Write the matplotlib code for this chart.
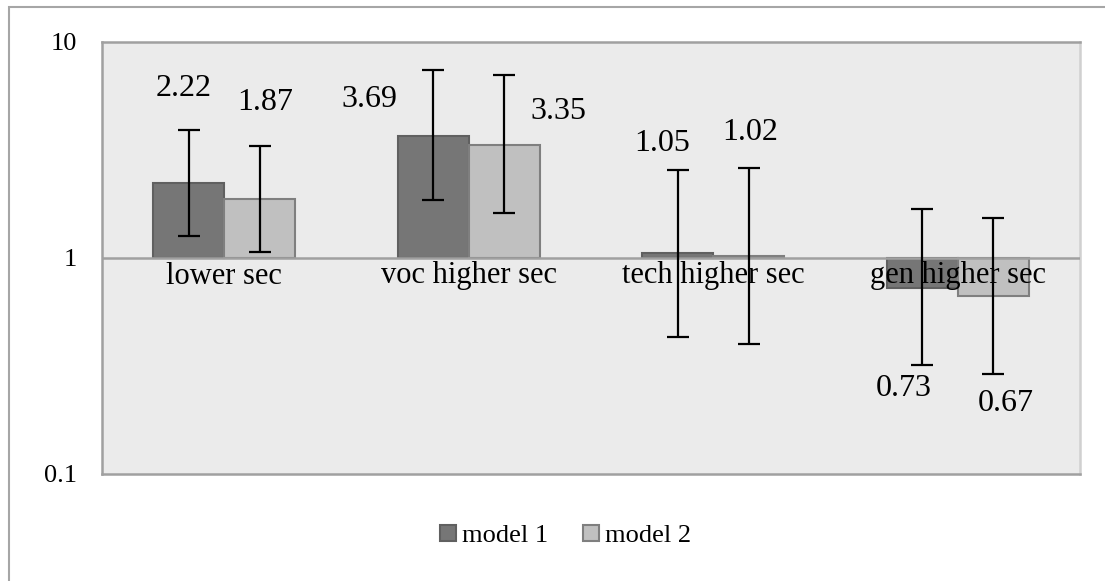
import matplotlib
matplotlib.use("Agg")
import matplotlib.pyplot as plt
from matplotlib.patches import Rectangle, Patch
import numpy as np

# ---- data ----
categories = ["lower sec", "voc higher sec", "tech higher sec", "gen higher sec"]
series_names = ["model 1", "model 2"]
model1 = [2.22, 3.69, 1.05, 0.73]
model2 = [1.87, 3.35, 1.02, 0.67]
model1_ci_low = [1.26, 1.86, 0.43, 0.32]
model1_ci_high = [3.91, 7.42, 2.56, 1.69]
model2_ci_low = [1.07, 1.62, 0.40, 0.29]
model2_ci_high = [3.30, 7.03, 2.61, 1.53]
ytick_values = [0.1, 1, 10]
ytick_labels = ["0.1", "1", "10"]

# label placement offsets (pixels, relative to bar end): (dx, dy up)
label_offsets_m1 = [(-5.5, 95), (-64, 36.5), (-15.5, 110), (-19, -100.5)]
label_offsets_m2 = [(5.5, 97), (54, 32.6), (1.5, 124), (13, -108)]

W, H, DPI = 1105, 581, 100
plt.rcParams['font.family'] = ['Liberation Serif', 'DejaVu Serif']
fig = plt.figure(figsize=(W / DPI, H / DPI), dpi=DPI)

# outer chart border (cut off at right/bottom)
fig.patches.append(Rectangle((9 / W, -0.05), 1.2, 1 - 7 / H + 0.05,
                             transform=fig.transFigure, fill=False,
                             edgecolor="#a6a6a6", linewidth=1.5))

left, right, top, bottom = 102, 1080, 42, 474
ax = fig.add_axes([left / W, 1 - bottom / H, (right - left) / W, (bottom - top) / H])
ax.set_facecolor("#ebebeb")
ax.set_yscale("log")
ax.set_ylim(0.1, 10)
ax.set_xlim(-0.5, len(categories) - 0.5)

x = np.arange(len(categories))
bw = 0.29
dark, dark_edge = "#767676", "#606060"
light, light_edge = "#c0c0c0", "#7f7f7f"

m1 = np.array(model1); m2 = np.array(model2)
ax.bar(x - bw / 2, m1 - 1, bottom=1, width=bw, color=dark, edgecolor=dark_edge, linewidth=1.5, zorder=3)
ax.bar(x + bw / 2, m2 - 1, bottom=1, width=bw, color=light, edgecolor=light_edge, linewidth=1.5, zorder=3)

err1 = [m1 - np.array(model1_ci_low), np.array(model1_ci_high) - m1]
err2 = [m2 - np.array(model2_ci_low), np.array(model2_ci_high) - m2]
ax.errorbar(x - bw / 2, m1, yerr=err1, fmt="none", ecolor="black", elinewidth=1.6, capsize=8, capthick=1.6, zorder=5)
ax.errorbar(x + bw / 2, m2, yerr=err2, fmt="none", ecolor="black", elinewidth=1.6, capsize=8, capthick=1.6, zorder=5)

# horizontal axis line at 1
ax.axhline(1, color="#a0a0a0", linewidth=1.8, zorder=4)

# frame
for s in ["top", "bottom", "left", "right"]:
    ax.spines[s].set_color("#a0a0a0")
    ax.spines[s].set_linewidth(1.8)
ax.spines["right"].set_color("#d0d0d0")

ax.set_yticks(ytick_values)
ax.set_yticklabels(ytick_labels, fontsize=19)
ax.yaxis.set_minor_locator(matplotlib.ticker.NullLocator())
ax.tick_params(axis="y", length=0, pad=18)
ax.set_xticks([])

# category labels just below the line at 1
for xi, c in zip(x, categories):
    ax.annotate(c, xy=(xi, 1), xycoords="data", xytext=(0, -18 * 0.72),
                textcoords="offset points", ha="center", va="center", fontsize=22, zorder=6)

# value labels
pt = 72 / DPI
for xi, v, (dx, dy) in zip(x - bw / 2, model1, label_offsets_m1):
    ax.annotate(f"{v:.2f}", xy=(xi, v), xycoords="data", xytext=(dx * pt, dy * pt),
                textcoords="offset points", ha="center", va="center", fontsize=23, zorder=6)
for xi, v, (dx, dy) in zip(x + bw / 2, model2, label_offsets_m2):
    ax.annotate(f"{v:.2f}", xy=(xi, v), xycoords="data", xytext=(dx * pt, dy * pt),
                textcoords="offset points", ha="center", va="center", fontsize=23, zorder=6)

handles = [Patch(facecolor=dark, edgecolor=dark_edge, linewidth=1.5),
           Patch(facecolor=light, edgecolor=light_edge, linewidth=1.5)]
fig.legend(handles, series_names, loc="center", bbox_to_anchor=(0.512, 1 - 536 / H),
           ncol=2, frameon=False, fontsize=19, handlelength=0.6, handleheight=0.6,
           handletextpad=0.25, columnspacing=1.3)

fig.savefig("out.png", dpi=DPI)
